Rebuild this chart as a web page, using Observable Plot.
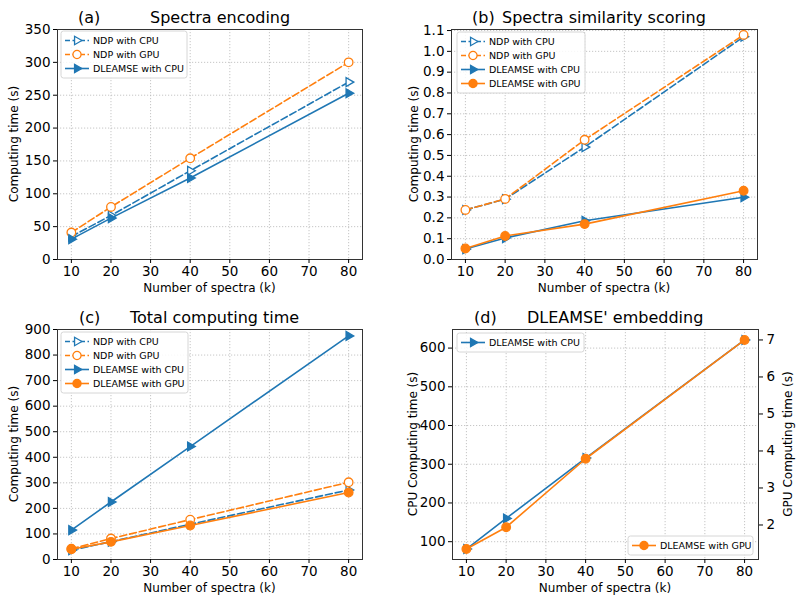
<!DOCTYPE html>
<html><head><meta charset="utf-8">
<script src="https://cdn.jsdelivr.net/npm/d3@7"></script>
<script src="https://cdn.jsdelivr.net/npm/@observablehq/plot@0.6"></script>
<style>
body{margin:0;background:#fff;}
#root{position:relative;width:800px;height:605px;background:#fff;overflow:hidden;}
.panel{position:absolute;width:400px;height:300px;}
.panel svg{display:block;}
</style></head>
<body><div id="root"></div>
<script>
// ---------- data ----------
const xValues = [10, 20, 40, 80];
const xTicks = [10, 20, 30, 40, 50, 60, 70, 80];

// (a) Spectra encoding
const encNdpCpu = [35, 67, 135, 270];
const encNdpGpu = [41, 80, 154, 300];
const encDleamseCpu = [31, 63, 124, 253];
const encTicks = [0, 50, 100, 150, 200, 250, 300, 350];

// (b) Spectra similarity scoring
const simNdpCpu = [0.238, 0.29, 0.54, 1.07];
const simNdpGpu = [0.238, 0.291, 0.575, 1.079];
const simDleamseCpu = [0.05, 0.103, 0.186, 0.299];
const simDleamseGpu = [0.053, 0.113, 0.17, 0.33];
const simTicks = [0, 0.1, 0.2, 0.3, 0.4, 0.5, 0.6, 0.7, 0.8, 0.9, 1.0, 1.1];

// (c) Total computing time
const totNdpCpu = [36, 70, 138, 272];
const totNdpGpu = [42, 82, 156, 302];
const totDleamseCpu = [115, 225, 442, 875];
const totDleamseGpu = [40, 69, 133, 262];
const totTicks = [0, 100, 200, 300, 400, 500, 600, 700, 800, 900];

// (d) DLEAMSE' embedding
const embCpu = [81, 160, 316, 621];
const embGpu = [1.35, 1.94, 3.79, 7.0];
const embCpuTicks = [100, 200, 300, 400, 500, 600];
const embGpuTicks = [2, 3, 4, 5, 6, 7];

// ---------- styles ----------
const BLUE = "#1f77b4", ORANGE = "#ff7f0e";
const DASH = "7,3";
const styles = {
  "NDP with CPU":     {color: BLUE,   dash: DASH, symbol: "triangle", filled: false},
  "NDP with GPU":     {color: ORANGE, dash: DASH, symbol: "circle",   filled: false},
  "DLEAMSE with CPU": {color: BLUE,   dash: null, symbol: "triangle", filled: true},
  "DLEAMSE with GPU": {color: ORANGE, dash: null, symbol: "circle",   filled: true}
};
const FONT = "DejaVu Sans";
const W = 400, H = 300;

function rows(values) { return xValues.map((x, i) => ({x, y: values[i]})); }
function symR(s) { return s.symbol === "triangle" ? 3.3 : 4.3; }

function seriesMarks(name, values) {
  const s = styles[name];
  const data = rows(values);
  const lineOpts = {x: "x", y: "y", stroke: s.color, strokeWidth: 1.6};
  if (s.dash) lineOpts.strokeDasharray = s.dash;
  return [
    Plot.line(data, lineOpts),
    Plot.dot(data, {x: "x", y: "y", symbol: s.symbol, rotate: s.symbol === "triangle" ? 90 : 0,
      r: symR(s), stroke: s.color, strokeWidth: 1.3, fill: s.filled ? s.color : "white"})
  ];
}

function gridMarks(yTicks) {
  return [
    Plot.gridX({ticks: xTicks, stroke: "#b8b8b8", strokeOpacity: 1, strokeWidth: 0.8, strokeDasharray: "1.2,1.8"}),
    Plot.gridY({ticks: yTicks, stroke: "#b8b8b8", strokeOpacity: 1, strokeWidth: 0.8, strokeDasharray: "1.2,1.8"})
  ];
}

function makePlot(o) {
  return Plot.plot({
    width: W, height: H,
    marginLeft: o.m[0], marginRight: o.m[1], marginTop: 29, marginBottom: 41,
    style: {fontFamily: FONT, fontSize: "13.5px", background: o.transparent ? "transparent" : "white", color: "black"},
    x: {domain: [6.5, 83.5], axis: o.noX ? null : undefined},
    y: {domain: o.yDomain},
    marks: o.marks
  });
}

function addText(parent, x, y, text, size, attrs = {}) {
  const t = d3.select(parent).append("text")
    .attr("x", x).attr("y", y)
    .attr("font-family", FONT).attr("font-size", size + "px")
    .attr("text-anchor", "start")
    .attr("fill", "black").text(text);
  for (const k in attrs) t.attr(k, attrs[k]);
  return t;
}

function addTitle(svg, tag, tagX, title, titleX) {
  addText(svg, tagX, 23, tag, 16);
  addText(svg, titleX, 23, title, 16);
}

function addXLabel(svg, m) {
  const cx = (m[0] + (W - m[1])) / 2;
  addText(svg, cx, 292, "Number of spectra (k)", 12, {"text-anchor": "middle"});
}

function addYLabel(svg, x, text) {
  const cy = (29 + (H - 41)) / 2;
  addText(svg, 0, 0, text, 12, {"text-anchor": "middle", transform: `translate(${x},${cy}) rotate(-90)`});
}

function drawLegend(svg, box, names) {
  const g = d3.select(svg).append("g");
  const h = names.length * 14 + 5;
  g.append("rect").attr("x", box.x).attr("y", box.y).attr("width", box.w).attr("height", h)
    .attr("rx", 2.5).attr("fill", "white").attr("fill-opacity", 0.85)
    .attr("stroke", "#cccccc").attr("stroke-width", 0.8);
  names.forEach((name, i) => {
    const s = styles[name];
    const cy = box.y + 9.5 + i * 14;
    const x0 = box.x + 4, x1 = box.x + 28, xm = (x0 + x1) / 2;
    const ln = g.append("line").attr("x1", x0).attr("x2", x1).attr("y1", cy).attr("y2", cy)
      .attr("stroke", s.color).attr("stroke-width", 1.6);
    if (s.dash) ln.attr("stroke-dasharray", "5,2.5");
    const r = symR(s) * 0.95;
    const type = s.symbol === "triangle" ? d3.symbolTriangle : d3.symbolCircle;
    g.append("path").attr("d", d3.symbol(type, Math.PI * r * r)())
      .attr("transform", `translate(${xm},${cy}) rotate(${s.symbol === "triangle" ? 90 : 0})`)
      .attr("fill", s.filled ? s.color : "white").attr("stroke", s.color).attr("stroke-width", 1.3);
    addText(g.node(), box.x + 32, cy, name, 9.5, {dy: "0.35em"});
  });
}

function axes(yTicks, yFormat) {
  const ax = {ticks: xTicks, tickSize: 4, tickPadding: 3, label: null, tickFormat: d => String(d)};
  const ay = {ticks: yTicks, tickSize: 4, tickPadding: 3, label: null};
  if (yFormat) ay.tickFormat = yFormat;
  return [Plot.axisX(ax), Plot.axisY(ay)];
}

function place(node, left, top) {
  const div = document.createElement("div");
  div.className = "panel";
  div.style.left = left + "px";
  div.style.top = top + "px";
  div.appendChild(node);
  document.getElementById("root").appendChild(div);
}

// ---------- (a) ----------
{
  const m = [57, 38];
  const svg = makePlot({m, yDomain: [0, 350], marks: [
    ...gridMarks(encTicks),
    Plot.frame({stroke: "#333", strokeWidth: 1}),
    ...axes(encTicks),
    ...seriesMarks("NDP with CPU", encNdpCpu),
    ...seriesMarks("NDP with GPU", encNdpGpu),
    ...seriesMarks("DLEAMSE with CPU", encDleamseCpu)
  ]});
  addTitle(svg, "(a)", 78, "Spectra encoding", 150);
  addXLabel(svg, m);
  addYLabel(svg, 18, "Computing time (s)");
  drawLegend(svg, {x: 61, y: 31, w: 126}, ["NDP with CPU", "NDP with GPU", "DLEAMSE with CPU"]);
  place(svg, 0, 0);
}

// ---------- (b) ----------
{
  const m = [51, 43];
  const svg = makePlot({m, yDomain: [0, 1.105], marks: [
    ...gridMarks(simTicks),
    Plot.frame({stroke: "#333", strokeWidth: 1}),
    ...axes(simTicks, d3.format(".1f")),
    ...seriesMarks("NDP with CPU", simNdpCpu),
    ...seriesMarks("NDP with GPU", simNdpGpu),
    ...seriesMarks("DLEAMSE with CPU", simDleamseCpu),
    ...seriesMarks("DLEAMSE with GPU", simDleamseGpu)
  ]});
  addTitle(svg, "(b)", 72, "Spectra similarity scoring", 102);
  addXLabel(svg, m);
  addYLabel(svg, 18, "Computing time (s)");
  drawLegend(svg, {x: 57, y: 32, w: 128}, ["NDP with CPU", "NDP with GPU", "DLEAMSE with CPU", "DLEAMSE with GPU"]);
  place(svg, 400, 0);
}

// ---------- (c) ----------
{
  const m = [57, 38];
  const svg = makePlot({m, yDomain: [0, 900], marks: [
    ...gridMarks(totTicks),
    Plot.frame({stroke: "#333", strokeWidth: 1}),
    ...axes(totTicks),
    ...seriesMarks("NDP with CPU", totNdpCpu),
    ...seriesMarks("NDP with GPU", totNdpGpu),
    ...seriesMarks("DLEAMSE with CPU", totDleamseCpu),
    ...seriesMarks("DLEAMSE with GPU", totDleamseGpu)
  ]});
  addTitle(svg, "(c)", 79, "Total computing time", 130);
  addXLabel(svg, m);
  addYLabel(svg, 18, "Computing time (s)");
  drawLegend(svg, {x: 61, y: 32, w: 127}, ["NDP with CPU", "NDP with GPU", "DLEAMSE with CPU", "DLEAMSE with GPU"]);
  place(svg, 0, 300);
}

// ---------- (d) ----------
{
  const m = [52, 42];
  const base = makePlot({m, yDomain: [54, 648], marks: [
    ...gridMarks(embCpuTicks),
    Plot.frame({stroke: "#333", strokeWidth: 1}),
    ...axes(embCpuTicks),
    ...seriesMarks("DLEAMSE with CPU", embCpu)
  ]});
  addTitle(base, "(d)", 74, "DLEAMSE' embedding", 127);
  addXLabel(base, m);
  addYLabel(base, 17, "CPU Computing time (s)");
  drawLegend(base, {x: 57, y: 33, w: 127}, ["DLEAMSE with CPU"]);
  place(base, 400, 300);

  const over = makePlot({m, yDomain: [1.0675, 7.2825], transparent: true, noX: true, marks: [
    Plot.axisY({anchor: "right", ticks: embGpuTicks, tickSize: 4, tickPadding: 4, label: null, tickFormat: d => String(d)}),
    ...seriesMarks("DLEAMSE with GPU", embGpu)
  ]});
  addYLabel(over, 392, "GPU Computing time (s)");
  drawLegend(over, {x: 228, y: 236, w: 125}, ["DLEAMSE with GPU"]);
  place(over, 400, 300);
}
</script>
</body></html>
